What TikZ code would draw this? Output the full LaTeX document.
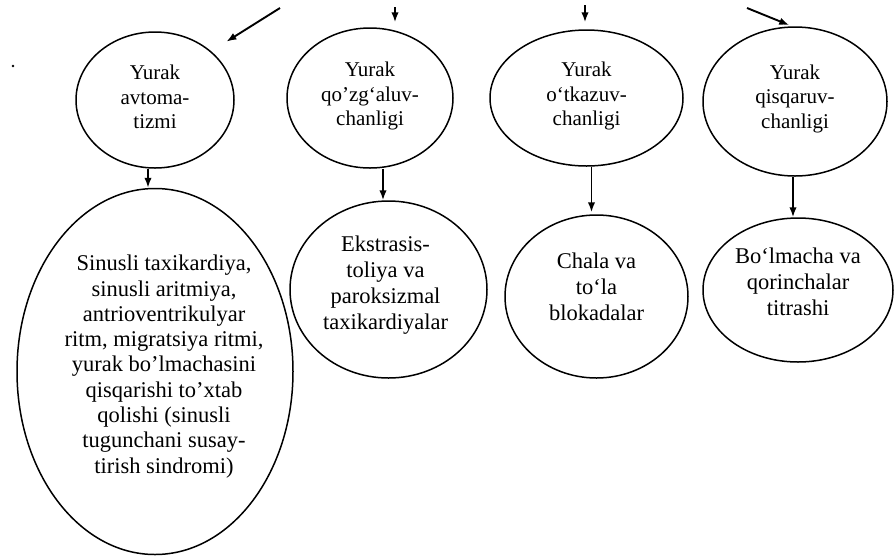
\documentclass[tikz,border=0pt]{standalone}
\usepackage{fontspec}
\setmainfont{Liberation Serif}
\usetikzlibrary{shapes.geometric,arrows.meta}
\begin{document}
\begin{tikzpicture}[x=1pt,y=-1pt,
  oval/.style={draw, ellipse, line width=1.5pt, inner sep=0pt},
  toptxt/.style={align=center, inner sep=0pt, font=\fontsize{21}{24.5}\selectfont},
  lowtxt/.style={align=center, inner sep=0pt, font=\fontsize{22.5}{26}\selectfont},
  bigtxt/.style={align=center, inner sep=0pt, font=\fontsize{22.5}{25.3}\selectfont},
  arr/.style={line width=1.9pt, -{Latex[length=10pt,width=7.5pt]}}]
\useasboundingbox (0,0) rectangle (895,558);
\fill[white] (0,0) rectangle (895,558);

% upper row: properties of the heart
\node[oval, minimum width=158pt, minimum height=136pt] (e1) at (155,100) {};
\node[oval, minimum width=166pt, minimum height=140pt] (e2) at (370,98) {};
\node[oval, minimum width=193pt, minimum height=136pt] (e3) at (586.5,98) {};
\node[oval, minimum width=184pt, minimum height=149pt] (e4) at (795,101.5) {};
\node[toptxt] (t1) at ([yshift=3pt]e1.center) {Yurak\\avtoma-\\tizmi};
\node[toptxt] (t2) at ([yshift=2pt]e2.center) {Yurak\\qo’zg‘aluv-\\chanligi};
\node[toptxt] (t3) at ([yshift=2pt]e3.center) {Yurak\\o‘tkazuv-\\chanligi};
\node[toptxt] (t4) at ([yshift=3pt]e4.center) {Yurak\\qisqaruv-\\chanligi};

% lower row: disorders
\node[oval, minimum width=276pt, minimum height=366pt] (big) at (155,371.5) {};
\node[oval, minimum width=197pt, minimum height=177pt] (ekst) at (388.5,289.5) {};
\node[oval, minimum width=183pt, minimum height=163pt] (chala) at (596.5,296.5) {};
\node[oval, minimum width=190pt, minimum height=144pt] (bolm) at (798,290) {};
\node[bigtxt] (tb) at ([xshift=9pt,yshift=5pt]big.center)
  {Sinusli taxikardiya,\\sinusli aritmiya,\\antrioventrikulyar\\ritm, migratsiya ritmi,\\yurak bo’lmachasini\\qisqarishi to’xtab\\qolishi (sinusli\\tugunchani susay-\\tirish sindromi)};
\node[lowtxt] (te) at ([xshift=-3pt,yshift=4pt]ekst.center) {Ekstrasis-\\toliya va\\paroksizmal\\taxikardiyalar};
\node[lowtxt] (tc) at ([yshift=10pt]chala.center) {Chala va\\to‘la\\blokadalar};
\node[lowtxt] (tm) at ([yshift=8pt]bolm.center) {Bo‘lmacha va\\qorinchalar\\titrashi};

% incoming arrows
\coordinate (in1) at (280,8);
\coordinate (in2) at (395,7);
\coordinate (in3) at (585,5);
\coordinate (in4) at (747,8);
\draw[arr, shorten >=18pt] (in1) -- (e1.41);
\draw[arr, shorten >=5pt] (in2) -- (in2 |- e2.north);
\draw[arr, shorten >=7pt] (in3) -- (in3 |- e3.north);
\draw[arr, shorten >=3pt] (in4) -- ([xshift=-3pt]e4.north);

% links from each property to its disorders
\draw[arr] ([xshift=-7pt]e1.south) -- ([xshift=-7pt]e1.south |- big.north);
\draw[arr] ([xshift=13pt]e2.south) -- ([xshift=13pt]e2.south |- ekst.north);
\draw[arr, shorten >=2pt] ([xshift=5pt]e3.south) -- ([xshift=5pt]e3.south |- chala.north);
\draw[arr] ([xshift=-2pt]e4.south) -- ([xshift=-2pt]e4.south |- bolm.north);

% small mark at the left margin
\fill (13,66) circle (1.3pt);
\end{tikzpicture}
\end{document}
